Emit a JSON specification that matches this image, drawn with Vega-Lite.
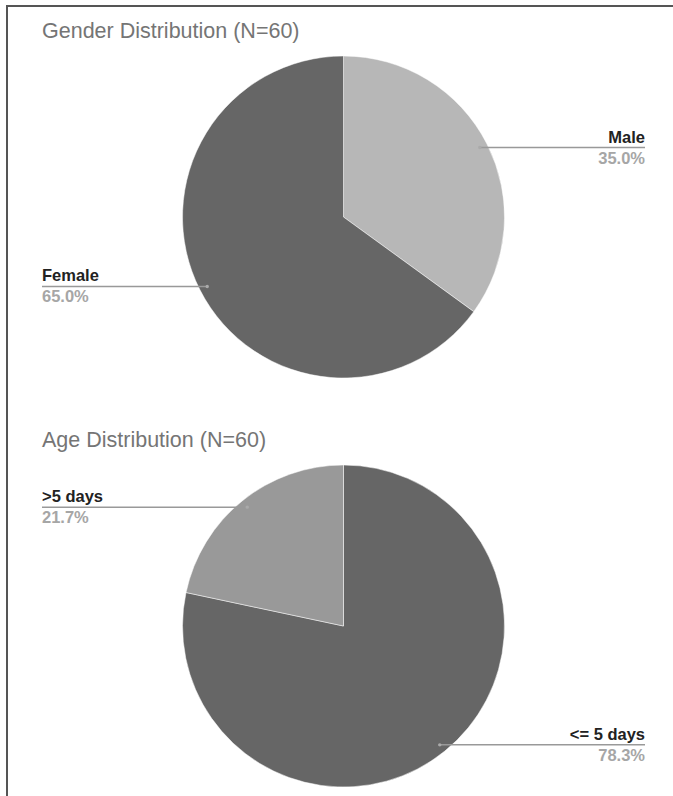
{
  "$schema": "https://vega.github.io/schema/vega-lite/v6.json",
  "width": 680,
  "height": 800,
  "autosize": {"type": "none"},
  "padding": {"left": 7, "top": 6, "right": 0, "bottom": 0},
  "background": "white",
  "config": {
    "view": {"stroke": "#555555", "strokeWidth": 2},
    "font": "Liberation Sans"
  },
  "layer": [
    {
      "data": {"values": [
        {"chart": "Gender", "title": "Gender Distribution (N=60)"},
        {"chart": "Age", "title": "Age Distribution (N=60)"}
      ]},
      "mark": {"type": "text", "align": "left", "baseline": "alphabetic", "fontSize": 21.5, "color": "#757575", "font": "Liberation Sans"},
      "encoding": {
        "x": {"datum": -1.8727, "type": "quantitative"},
        "y": {"field": "chart", "type": "nominal"},
        "yOffset": {"datum": -1.11, "type": "quantitative"},
        "text": {"field": "title", "type": "nominal"}
      }
    },
    {
      "data": {"values": [
        {"chart": "Gender", "category": "Male", "count": 21},
        {"chart": "Gender", "category": "Female", "count": 39},
        {"chart": "Age", "category": "<= 5 days", "count": 47},
        {"chart": "Age", "category": ">5 days", "count": 13}
      ]},
      "transform": [
        {"stack": "count", "groupby": ["chart"], "offset": "normalize", "as": ["c0", "c1"]},
        {"calculate": "PI * (datum.c0 + datum.c1)", "as": "mid"},
        {"calculate": "0.95 * sin(datum.mid)", "as": "px"},
        {"calculate": "-0.95 * cos(datum.mid)", "as": "py"},
        {"calculate": "datum.px > 0 ? 1.8727 : -1.8727", "as": "edge"},
        {"calculate": "datum.c1 - datum.c0", "as": "share"}
      ],
      "layer": [
        {
          "mark": {"type": "arc", "outerRadius": 161, "stroke": "white", "strokeWidth": 0.5},
          "encoding": {
            "x": {"datum": 0, "type": "quantitative"},
            "y": {"field": "chart", "type": "nominal"},
            "theta": {"field": "c0", "type": "quantitative", "scale": {"domain": [0, 1], "range": [0, 6.283185307179586]}},
            "theta2": {"field": "c1"},
            "color": {
              "field": "category",
              "type": "nominal",
              "scale": {"domain": ["Male", "Female", "<= 5 days", ">5 days"], "range": ["#b7b7b7", "#666666", "#666666", "#999999"]},
              "legend": null
            }
          }
        },
        {
          "mark": {"type": "rule", "color": "#999999", "strokeWidth": 1.5},
          "encoding": {
            "x": {"field": "px", "type": "quantitative"},
            "x2": {"field": "edge"},
            "y": {"field": "chart", "type": "nominal"},
            "yOffset": {"field": "py", "type": "quantitative"}
          }
        },
        {
          "mark": {"type": "point", "filled": true, "size": 12, "color": "#aaaaaa", "opacity": 1},
          "encoding": {
            "x": {"field": "px", "type": "quantitative"},
            "y": {"field": "chart", "type": "nominal"},
            "yOffset": {"field": "py", "type": "quantitative"}
          }
        },
        {
          "transform": [{"filter": "datum.px > 0"}],
          "mark": {"type": "text", "align": "right", "baseline": "alphabetic", "dy": -5, "fontSize": 16.5, "fontWeight": "bold", "color": "#222222"},
          "encoding": {
            "x": {"field": "edge", "type": "quantitative"},
            "y": {"field": "chart", "type": "nominal"},
            "yOffset": {"field": "py", "type": "quantitative"},
            "text": {"field": "category", "type": "nominal"}
          }
        },
        {
          "transform": [{"filter": "datum.px > 0"}],
          "mark": {"type": "text", "align": "right", "baseline": "alphabetic", "dy": 16, "fontSize": 16.5, "fontWeight": "bold", "color": "#a6a6a6"},
          "encoding": {
            "x": {"field": "edge", "type": "quantitative"},
            "y": {"field": "chart", "type": "nominal"},
            "yOffset": {"field": "py", "type": "quantitative"},
            "text": {"field": "share", "type": "quantitative", "format": ".1%"}
          }
        },
        {
          "transform": [{"filter": "datum.px <= 0"}],
          "mark": {"type": "text", "align": "left", "baseline": "alphabetic", "dy": -5, "fontSize": 16.5, "fontWeight": "bold", "color": "#222222"},
          "encoding": {
            "x": {"field": "edge", "type": "quantitative"},
            "y": {"field": "chart", "type": "nominal"},
            "yOffset": {"field": "py", "type": "quantitative"},
            "text": {"field": "category", "type": "nominal"}
          }
        },
        {
          "transform": [{"filter": "datum.px <= 0"}],
          "mark": {"type": "text", "align": "left", "baseline": "alphabetic", "dy": 16, "fontSize": 16.5, "fontWeight": "bold", "color": "#a6a6a6"},
          "encoding": {
            "x": {"field": "edge", "type": "quantitative"},
            "y": {"field": "chart", "type": "nominal"},
            "yOffset": {"field": "py", "type": "quantitative"},
            "text": {"field": "share", "type": "quantitative", "format": ".1%"}
          }
        }
      ]
    }
  ],
  "encoding": {
    "x": {"type": "quantitative", "scale": {"domain": [-2.09006, 2.13354], "nice": false, "zero": false}, "axis": null},
    "y": {"type": "nominal", "scale": {"type": "point", "domain": ["Gender", "Age"], "range": [211, 620], "padding": 0}, "axis": null},
    "yOffset": {"type": "quantitative", "scale": {"domain": [-1, 1], "range": [-161, 161], "nice": false, "zero": false}}
  },
  "resolve": {"scale": {"x": "shared", "y": "shared", "yOffset": "shared"}}
}
